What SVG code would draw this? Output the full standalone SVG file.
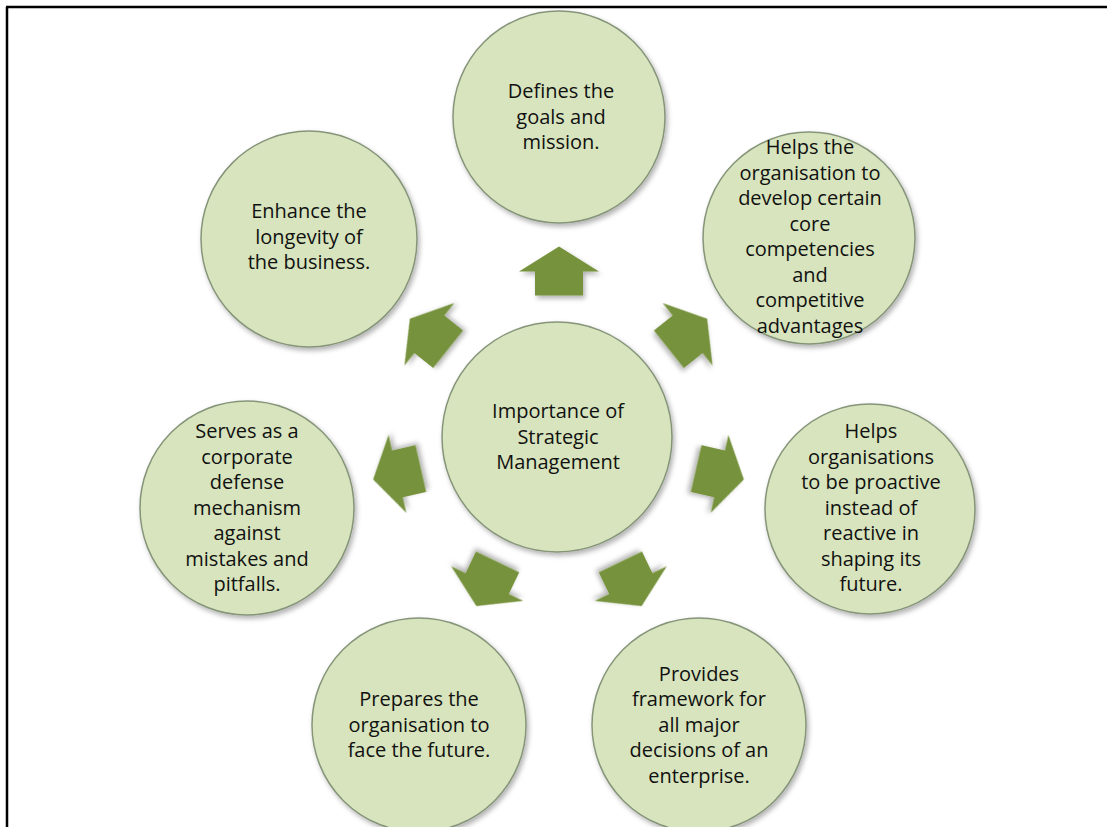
<svg xmlns="http://www.w3.org/2000/svg" width="1107" height="827" viewBox="0 0 1107 827">
<defs>
<filter id="sh" x="-20%" y="-20%" width="140%" height="140%">
<feDropShadow dx="2" dy="3" stdDeviation="2.5" flood-color="#000" flood-opacity="0.3"/>
</filter>
<path id="arr" d="M0,-24.5 L40,0.5 L24,0.5 L24,24.5 L-24,24.5 L-24,0.5 L-40,0.5 Z"/>
</defs>
<style>
.c{fill:#d7e4bd;stroke:#86957a;stroke-width:1.5;filter:url(#sh)}
.t{font-family:"Open Sans","Noto Sans",sans-serif;font-size:20px;fill:#111;text-anchor:middle}
.a{fill:#76923c;filter:url(#sh)}
</style>
<rect width="1107" height="827" fill="#fff"/>
<path d="M6,7 H1107 M7,7 V827" stroke="#000" stroke-width="2.5" fill="none"/>

<g id="n-top"><circle class="c" cx="559" cy="117" r="106"/>
<text class="t"><tspan x="561" y="98">Defines the</tspan><tspan x="561" y="123.5">goals and</tspan><tspan x="561" y="149">mission.</tspan></text></g>

<g id="n-ur"><circle class="c" cx="809" cy="238" r="106"/>
<text class="t"><tspan x="810" y="154">Helps the</tspan><tspan x="810" y="179.5">organisation to</tspan><tspan x="810" y="205">develop certain</tspan><tspan x="810" y="230.5">core</tspan><tspan x="810" y="256">competencies</tspan><tspan x="810" y="281.5">and</tspan><tspan x="810" y="307">competitive</tspan><tspan x="810" y="332.5">advantages</tspan></text></g>

<g id="n-r"><circle class="c" cx="870" cy="509" r="105"/>
<text class="t"><tspan x="871" y="438">Helps</tspan><tspan x="871" y="463.5">organisations</tspan><tspan x="871" y="489">to be proactive</tspan><tspan x="871" y="514.5">instead of</tspan><tspan x="871" y="540">reactive in</tspan><tspan x="871" y="565.5">shaping its</tspan><tspan x="871" y="591">future.</tspan></text></g>

<g id="n-br"><circle class="c" cx="699" cy="725" r="107"/>
<text class="t"><tspan x="699" y="680.5">Provides</tspan><tspan x="699" y="706">framework for</tspan><tspan x="699" y="731.5">all major</tspan><tspan x="699" y="757">decisions of an</tspan><tspan x="699" y="782.5">enterprise.</tspan></text></g>

<g id="n-bl"><circle class="c" cx="419" cy="725" r="107"/>
<text class="t"><tspan x="419" y="706">Prepares the</tspan><tspan x="419" y="731.5">organisation to</tspan><tspan x="419" y="757">face the future.</tspan></text></g>

<g id="n-l"><circle class="c" cx="247" cy="508" r="107"/>
<text class="t"><tspan x="247" y="438">Serves as a</tspan><tspan x="247" y="463.5">corporate</tspan><tspan x="247" y="489">defense</tspan><tspan x="247" y="514.5">mechanism</tspan><tspan x="247" y="540">against</tspan><tspan x="247" y="565.5">mistakes and</tspan><tspan x="247" y="591">pitfalls.</tspan></text></g>

<g id="n-ul"><circle class="c" cx="309" cy="239" r="108"/>
<text class="t"><tspan x="309" y="218">Enhance the</tspan><tspan x="309" y="243.5">longevity of</tspan><tspan x="309" y="269">the business.</tspan></text></g>

<g id="n-center"><circle class="c" cx="557" cy="437" r="115"/>
<text class="t"><tspan x="558" y="418">Importance of</tspan><tspan x="558" y="443.5">Strategic</tspan><tspan x="558" y="469">Management</tspan></text></g>

<g id="connectors">
<use href="#arr" class="a" transform="translate(559,271)"/>
<use href="#arr" class="a" transform="translate(688,334) rotate(51.43)"/>
<use href="#arr" class="a" transform="translate(720,474) rotate(102.86)"/>
<use href="#arr" class="a" transform="translate(631,584) rotate(154.29)"/>
<use href="#arr" class="a" transform="translate(487,584) rotate(205.71)"/>
<use href="#arr" class="a" transform="translate(397,474) rotate(257.14)"/>
<use href="#arr" class="a" transform="translate(429,334) rotate(308.57)"/>
</g>
</svg>
